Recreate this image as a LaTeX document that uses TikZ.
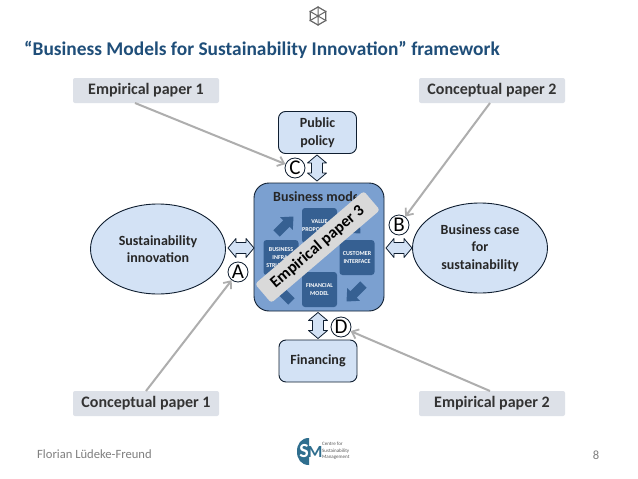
\documentclass[tikz,border=0pt]{standalone}
\usepackage{fontspec}
\setmainfont{Carlito}
\usetikzlibrary{shapes.geometric,arrows.meta}
\definecolor{titleblue}{HTML}{1F4E79}
\definecolor{lblue}{HTML}{D3E2F5}
\definecolor{lgray}{HTML}{DDE1E8}
\definecolor{midblue}{HTML}{7BA0D0}
\definecolor{darkblue}{HTML}{366092}
\definecolor{outl}{HTML}{0F1E30}
\definecolor{arrgray}{HTML}{AEAEAE}
\definecolor{bandgray}{HTML}{D9D9D9}
\definecolor{foot}{HTML}{7F7F7F}
\definecolor{teal}{HTML}{2F6E8E}
\newcommand{\twoway}[3]{\draw[outl,line width=.8pt,fill=lblue,line join=round,shift={(#1,#2)},rotate=#3]
  (-13,0)--(-5,-9.5)--(-5,-5.5)--(5,-5.5)--(5,-9.5)--(13,0)--(5,9.5)--(5,5.5)--(-5,5.5)--(-5,9.5)--cycle;}
\newcommand{\cyclearrow}[3]{\fill[darkblue,shift={(#1,#2)},rotate=#3]
  (-12,-4.5)--(2,-4.5)--(2,-9)--(12,0)--(2,9)--(2,4.5)--(-12,4.5)--cycle;}
\tikzset{
  x=1pt,y=-1pt,
  paperbox/.style={rectangle,rounded corners=2pt,fill=lgray,minimum width=146pt,minimum height=25pt,inner sep=0pt,font=\fontsize{16}{16}\selectfont\bfseries,text=black!80},
  themebox/.style={rectangle,rounded corners=7pt,draw=outl,line width=.9pt,fill=lblue,minimum width=78pt,minimum height=42pt,inner sep=0pt,align=center,font=\fontsize{14}{17.5}\selectfont\bfseries,text=black!85},
  themeell/.style={ellipse,draw=outl,line width=.9pt,fill=lblue,minimum width=135pt,minimum height=90pt,inner sep=0pt,align=center,font=\fontsize{14}{17.5}\selectfont\bfseries,text=black!85},
  letter/.style={circle,draw=outl,line width=.8pt,fill=white,minimum size=20pt,inner sep=0pt,font=\fontsize{21}{21}\selectfont},
  inner/.style={rectangle,rounded corners=3pt,fill=darkblue,minimum width=35pt,minimum height=35pt,inner sep=0pt,align=center,text=white,font=\fontsize{6}{8}\selectfont\bfseries},
  ptr/.style={draw=arrgray,line width=2pt,-{Straight Barb[length=6pt,width=10pt,line width=1.8pt]}},
}
\begin{document}
\begin{tikzpicture}
\useasboundingbox (0,0) rectangle (638,479);
\fill[white] (0,0) rectangle (638,479);
% top icon
\node[regular polygon,regular polygon sides=6,shape border rotate=30,draw=black!60,line width=1.2pt,minimum size=18pt,inner sep=0pt] (hex) at (318,16) {};
\draw[black!60,line width=1pt] (hex.corner 1)--(hex.corner 4) (hex.corner 2)--(hex.corner 5) (hex.corner 3)--(hex.corner 6);
% title
\node[anchor=west,inner sep=0pt,text=titleblue,font=\fontsize{19.4}{20}\selectfont\bfseries] (title) at (24,50) {“Business Models for Sustainability Innovation” framework};
% paper boxes
\node[paperbox] (e1) at (146,90.5) {Empirical paper 1};
\node[paperbox] (c2) at (492,90.5) {Conceptual paper 2};
\node[paperbox] (c1) at (146,403.5) {Conceptual paper 1};
\node[paperbox] (e2) at (492,403.5) {Empirical paper 2};
% themes
\node[themebox] (pol) at (317.5,132.5) {Public\\policy};
\node[themebox] (fin) at (318,361) {Financing};
\node[themeell] (sus) at (158,249) {Sustainability\\innovation};
\node[themeell] (bc) at (480,248) {Business case\\for\\sustainability};
% business model
\node[rectangle,rounded corners=15pt,draw=outl,line width=.9pt,fill=midblue,minimum width=130pt,minimum height=128pt,inner sep=0pt] (bm) at (319,247) {};
\begin{scope}
\clip (256,185) rectangle (356,210);
\node[inner sep=0pt,font=\fontsize{14}{14}\selectfont\bfseries,text=black!85,anchor=west] (bmt) at (273,197) {Business model};
\end{scope}
\node[inner] (vp) at (319.5,225.5) {VALUE\\PROPOSITION};
\node[inner] (ci) at (357,257.5) {CUSTOMER\\INTERFACE};
\node[inner] (bi) at (281,257.5) {BUSINESS\\INFRA-\\STRUCTURE};
\node[inner] (fm) at (319.5,289.5) {FINANCIAL\\MODEL};
\cyclearrow{285}{225}{45}
\cyclearrow{352}{225}{-45}
\cyclearrow{355}{293}{225}
\cyclearrow{283}{293}{135}
% band
\node[rectangle,rounded corners=3pt,fill=bandgray,minimum width=143pt,minimum height=25pt,inner sep=0pt,rotate=40.5,text=black,font=\fontsize{16.3}{16}\selectfont\bfseries] (band) at (317.5,247) {Empirical paper 3};
% double arrows
\twoway{241}{248}{0}
\twoway{399}{248}{0}
\twoway{317}{168}{90}
\twoway{318}{325.5}{90}
% letters
\node[letter] (C) at (295,168) {C};
\node[letter] (B) at (399,225) {B};
\node[letter] (A) at (238,272) {A};
\node[letter] (D) at (341,327) {D};
% pointers
\draw[ptr] (e1) ++(-11,12.5) coordinate (e1s) -- (C);
\draw[ptr] (c2) ++(-2,12.5) coordinate (c2s) -- (B);
\draw[ptr] (c1) ++(0,-12.5) coordinate (c1s) -- (A);
\draw[ptr] (e2) ++(-2,-12.5) coordinate (e2s) -- (D);
% footer
\node[anchor=west,inner sep=0pt,text=foot,font=\fontsize{12.6}{13}\selectfont] (auth) at (37,454) {Florian Lüdeke-Freund};
\node[inner sep=0pt,text=foot,font=\fontsize{12.6}{13}\selectfont] (pg) at (596,455) {8};
% logo
\fill[teal] (309,438) .. controls (301,438) and (297,444) .. (297,451.5) .. controls (297,459) and (301,465) .. (309,465) -- cycle;
\node[inner sep=0pt,text=white,font=\fontsize{20}{20}\selectfont\bfseries] (sm) at (304,451.5) {S};
\node[inner sep=0pt,text=teal,font=\fontsize{17}{17}\selectfont\bfseries] (im) at (315,452) {M};
\node[anchor=west,inner sep=0pt,align=left,text=black!65,font=\fontsize{5}{6.3}\selectfont] (lt2) at (322,451) {Centre for\\Sustainability\\Management};
\end{tikzpicture}
\end{document}
